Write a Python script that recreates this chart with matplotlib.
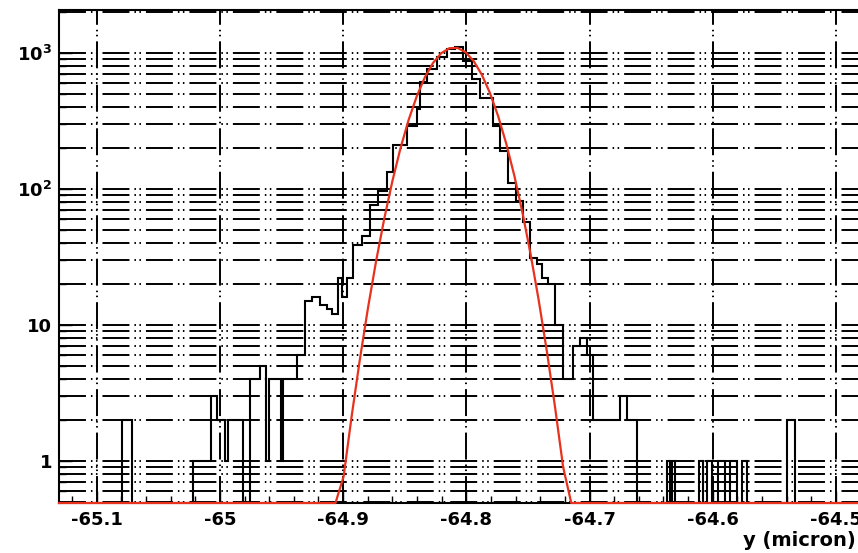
import matplotlib
matplotlib.use("Agg")
import matplotlib.pyplot as plt
import matplotlib.ticker as mticker
import numpy as np

plt.rcParams["font.family"] = ["DejaVu Sans"]
plt.rcParams["mathtext.fontset"] = "dejavusans"
plt.rcParams["lines.scale_dashes"] = False

# ── histogram (bin edges in micron, counts) ─────────────────────────────────
bin_edges = [
    -65.1350, -65.0797, -65.0716, -65.0221, -65.0072, -65.0026, -64.9959,
    -64.9932, -64.9810, -64.9756, -64.9675, -64.9625, -64.9600, -64.9508,
    -64.9484, -64.9374, -64.9309, -64.9255, -64.9188, -64.9133, -64.9093,
    -64.9039, -64.9005, -64.8971, -64.8917, -64.8847, -64.8782, -64.8714,
    -64.8646, -64.8593, -64.8484, -64.8403, -64.8376, -64.8321, -64.8240,
    -64.8159, -64.8092, -64.8024, -64.7956, -64.7889, -64.7781, -64.7726,
    -64.7662, -64.7597, -64.7540, -64.7483, -64.7426, -64.7386, -64.7337,
    -64.7280, -64.7213, -64.7131, -64.7077, -64.7023, -64.6969, -64.6752,
    -64.6696, -64.6617, -64.6373, -64.6347, -64.6330, -64.6306, -64.6109,
    -64.6076, -64.6049, -64.6008, -64.5955, -64.5900, -64.5860, -64.5805,
    -64.5765, -64.5719, -64.5399, -64.5332, -64.4650,
]
counts = [
    0, 2, 0, 1, 3, 2, 1, 2, 0, 4, 5, 1, 4, 1, 4, 6, 15, 16, 14, 13, 12,
    22, 16, 22, 39, 45, 76, 96, 134, 210, 289, 390, 610, 762, 929, 1080,
    1100, 880, 645, 470, 290, 190, 110, 81, 57, 31, 28, 22, 20, 10, 4, 7,
    8, 6, 2, 3, 2, 0, 1, 0, 1, 0, 1, 0, 1, 0, 1, 0, 1, 0, 1, 0, 2, 0,
]

# gaussian fit parameters (constant, mean, sigma)
fit_const = 1100.0
fit_mean = -64.8100
fit_sigma = 0.0235

x_ticks = [-65.1, -65.0, -64.9, -64.8, -64.7, -64.6, -64.5]
y_ticks = [1, 10, 100, 1000]
y_tick_labels = ["1", "10", r"$\mathbf{10^{2}}$", r"$\mathbf{10^{3}}$"]

XLIM = (-65.1306, -64.4772)
YLIM = (0.4905, 2074.0)

GRID_LS = (0, (19.4, 3.6, 1.1, 2.5, 1.1, 3.6))

fig = plt.figure(figsize=(8.58, 5.53), dpi=100)
ax = fig.add_axes([59 / 858, 50 / 553, (864 - 59) / 858, 493 / 553])

ax.set_yscale("log")
ax.set_xlim(*XLIM)
ax.set_ylim(*YLIM)

# histogram outline; empty bins drop below the frame like ROOT does
vals = np.array(counts, dtype=float)
vals = np.where(vals > 0, vals, 1e-3)
ax.stairs(vals, bin_edges, color="black", linewidth=1.5, baseline=None, zorder=3)

# gaussian fit curve, sampled like a ROOT TF1 and clipped to the frame minimum
xf = np.linspace(XLIM[0], XLIM[1], 100)
yf = fit_const * np.exp(-0.5 * ((xf - fit_mean) / fit_sigma) ** 2)
yf = np.maximum(yf, YLIM[0])
ax.plot(xf, yf, color="#e8321e", linewidth=1.6, zorder=4, clip_on=False)

# axes, ticks
ax.xaxis.set_major_locator(mticker.FixedLocator(x_ticks))
ax.xaxis.set_minor_locator(mticker.MultipleLocator(0.02))
ax.xaxis.set_major_formatter(mticker.FuncFormatter(lambda v, _: f"{round(v, 2):g}"))
ax.yaxis.set_major_locator(mticker.FixedLocator(y_ticks))
ax.yaxis.set_major_formatter(mticker.FixedFormatter(y_tick_labels))
ax.yaxis.set_minor_locator(mticker.LogLocator(base=10, subs=np.arange(2, 10), numticks=20))
ax.yaxis.set_minor_formatter(mticker.NullFormatter())

ax.tick_params(which="both", direction="in", colors="black", width=1.0)
ax.tick_params(which="major", length=9)
ax.tick_params(which="minor", length=5)
ax.tick_params(axis="x", which="major", labelsize=13, pad=6)
ax.tick_params(axis="y", which="major", labelsize=13, pad=5)
for lbl in ax.get_xticklabels() + ax.get_yticklabels():
    lbl.set_fontweight("bold")

ax.grid(True, axis="y", which="both", color="black", linewidth=1.4, linestyle=GRID_LS)
ax.grid(True, axis="x", which="major", color="black", linewidth=1.4, linestyle=GRID_LS)
ax.set_axisbelow(True)

for sp in ax.spines.values():
    sp.set_linewidth(1.5)
    sp.set_color("black")

fig.text(856 / 858, 1 - 540 / 553, "y (micron)", ha="right", va="center",
         fontsize=14, fontweight="bold")

fig.savefig("out.png", dpi=100)
